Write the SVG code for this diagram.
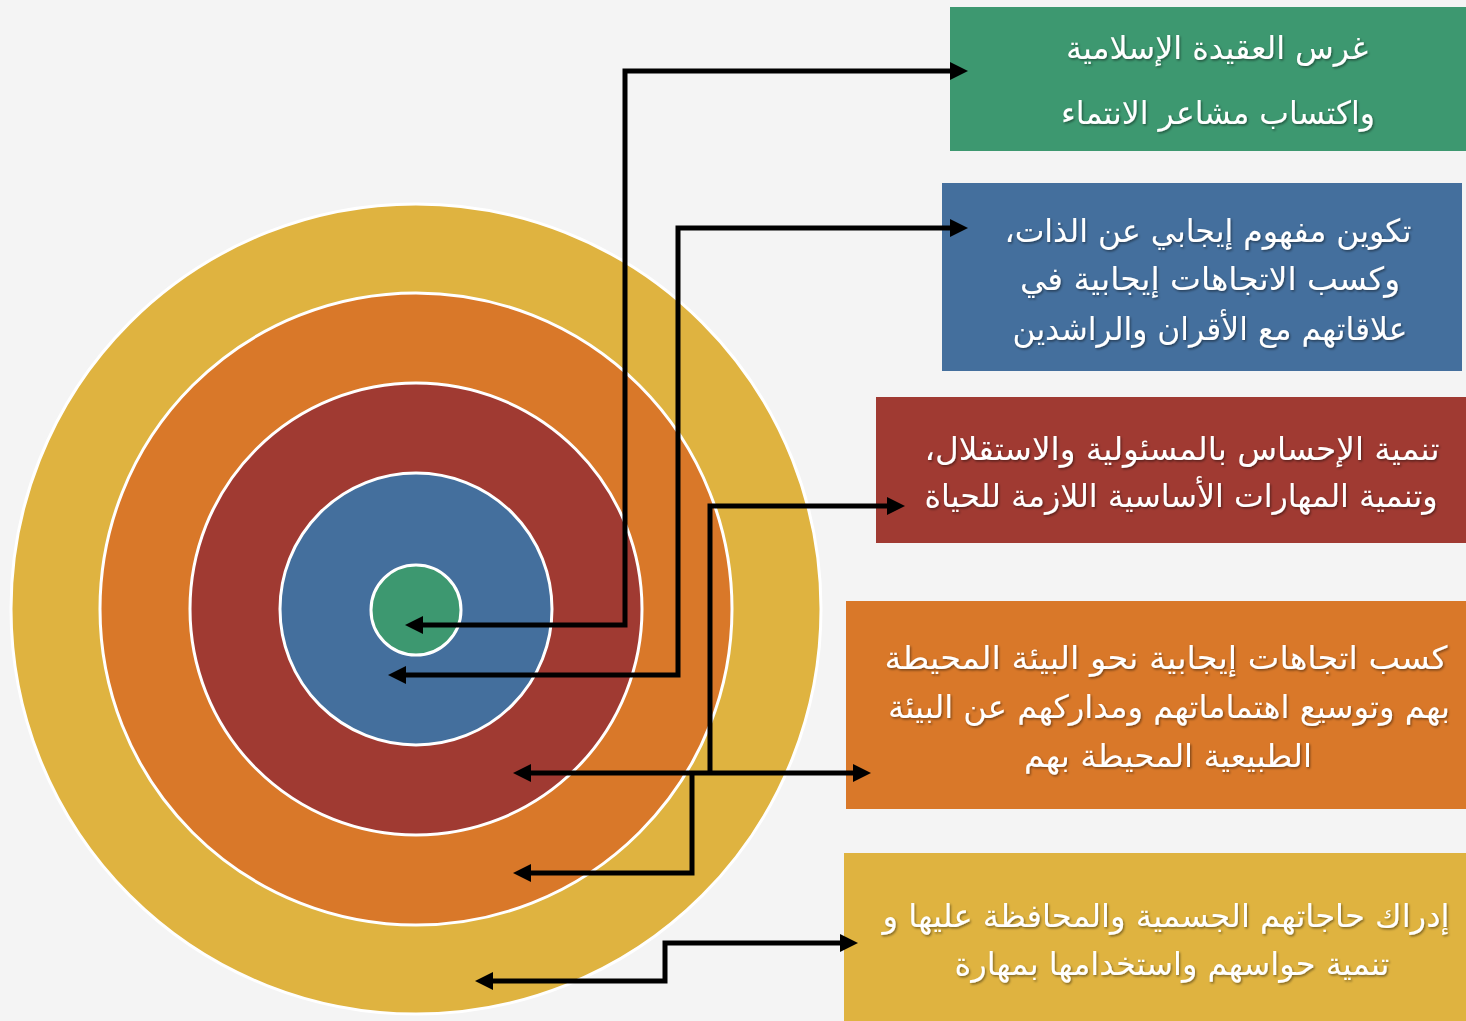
<svg xmlns="http://www.w3.org/2000/svg" width="1466" height="1021" viewBox="0 0 1466 1021">
<defs>
<marker id="ah" markerUnits="userSpaceOnUse" markerWidth="20" markerHeight="20" viewBox="0 -10 20 20" refX="2" refY="0" orient="auto-start-reverse">
<path d="M0,-9 L18,0 L0,9 Z" fill="#000"/>
</marker>
<filter id="sh" x="-10%" y="-30%" width="120%" height="160%">
<feDropShadow dx="1.2" dy="1.5" stdDeviation="1" flood-color="#000" flood-opacity="0.45"/>
</filter>
</defs>
<style>
.ring{stroke:#fff;stroke-width:3}
.lbl{font-family:"DejaVu Sans","Noto Sans",sans-serif;font-size:32px;fill:#fff;text-anchor:middle;filter:url(#sh)}
.con{fill:none;stroke:#000;stroke-width:5;stroke-linejoin:miter;marker-start:url(#ah);marker-end:url(#ah)}
.con1{fill:none;stroke:#000;stroke-width:5;stroke-linejoin:miter;marker-end:url(#ah)}
.con2{fill:none;stroke:#000;stroke-width:5;stroke-linejoin:miter;marker-start:url(#ah)}
</style>
<rect width="1466" height="1021" fill="#f4f4f4"/>
<g id="ring-yellow"><circle class="ring" cx="416" cy="609" r="405" fill="#dfb340"/></g>
<g id="ring-orange"><circle class="ring" cx="416" cy="609" r="316" fill="#d97829"/></g>
<g id="ring-red"><circle class="ring" cx="416" cy="609" r="226" fill="#a03a32"/></g>
<g id="ring-blue"><circle class="ring" cx="416" cy="609" r="136" fill="#446f9d"/></g>
<g id="ring-green"><circle class="ring" cx="416" cy="610" r="45" fill="#3d9870"/></g>

<g id="box-green">
<rect x="950" y="7" width="516" height="144" fill="#3d9870"/>
<text class="lbl" direction="rtl" x="1217" y="59" textLength="302" lengthAdjust="spacingAndGlyphs">غرس العقيدة الإسلامية</text>
<text class="lbl" direction="rtl" x="1218" y="124" textLength="314" lengthAdjust="spacingAndGlyphs">واكتساب مشاعر الانتماء</text>
</g>
<g id="box-blue">
<rect x="942" y="183" width="520" height="188" fill="#446f9d"/>
<text class="lbl" direction="rtl" x="1208" y="242" textLength="407" lengthAdjust="spacingAndGlyphs">تكوين مفهوم إيجابي عن الذات،</text>
<text class="lbl" direction="rtl" x="1210" y="290" textLength="380" lengthAdjust="spacingAndGlyphs">وكسب الاتجاهات إيجابية  في</text>
<text class="lbl" direction="rtl" x="1210" y="340" textLength="395" lengthAdjust="spacingAndGlyphs">علاقاتهم مع الأقران والراشدين</text>
</g>
<g id="box-red">
<rect x="876" y="397" width="590" height="146" fill="#a03a32"/>
<text class="lbl" direction="rtl" x="1182" y="460" textLength="515" lengthAdjust="spacingAndGlyphs">تنمية الإحساس بالمسئولية والاستقلال،</text>
<text class="lbl" direction="rtl" x="1181" y="507" textLength="513" lengthAdjust="spacingAndGlyphs">وتنمية المهارات الأساسية اللازمة للحياة</text>
</g>
<g id="box-orange">
<rect x="846" y="601" width="620" height="208" fill="#d97829"/>
<text class="lbl" direction="rtl" x="1166" y="669" textLength="563" lengthAdjust="spacingAndGlyphs">كسب اتجاهات إيجابية نحو البيئة المحيطة</text>
<text class="lbl" direction="rtl" x="1169" y="718" textLength="562" lengthAdjust="spacingAndGlyphs">بهم وتوسيع اهتماماتهم ومداركهم عن البيئة</text>
<text class="lbl" direction="rtl" x="1168" y="767" textLength="288" lengthAdjust="spacingAndGlyphs">الطبيعية المحيطة بهم</text>
</g>
<g id="box-yellow">
<rect x="844" y="853" width="622" height="168" fill="#dfb340"/>
<text class="lbl" direction="rtl" x="1166" y="927" textLength="567" lengthAdjust="spacingAndGlyphs">إدراك حاجاتهم الجسمية والمحافظة عليها و</text>
<text class="lbl" direction="rtl" x="1172" y="975" textLength="435" lengthAdjust="spacingAndGlyphs">تنمية حواسهم واستخدامها بمهارة</text>
</g>

<g id="connectors">
<path class="con" d="M952,71 H625 V625 H421"/>
<path class="con" d="M952,228 H678 V675 H404"/>
<path class="con2" d="M889,506 H710 V773"/>
<path class="con" d="M529,773 H855"/>
<path class="con1" d="M692,773 V873 H529"/>
<path class="con" d="M842,943 H665 V981 H491"/>
</g>
</svg>
